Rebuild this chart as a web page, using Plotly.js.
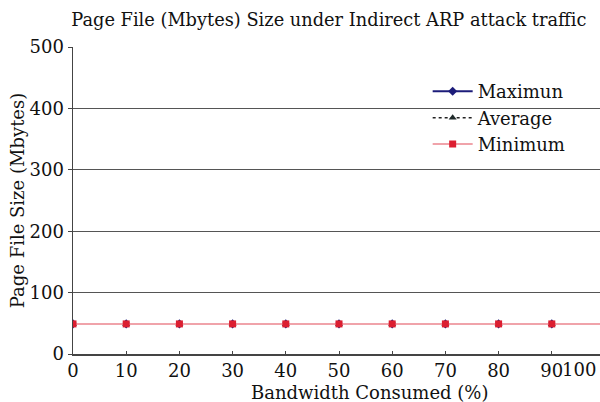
<!DOCTYPE html>
<html>
<head>
<meta charset="utf-8">
<script src="https://cdn.plot.ly/plotly-3.0.1.min.js"></script>
<style>html,body{margin:0;padding:0;overflow:hidden;background:#fff}</style>
</head>
<body>
<div id="chart" style="width:600px;height:402px"></div>
<script>
const bandwidth = [0, 10, 20, 30, 40, 50, 60, 70, 80, 90, 100];
const maximum = [49, 49, 49, 49, 49, 49, 49, 49, 49, 49, 49];
const average = [49, 49, 49, 49, 49, 49, 49, 49, 49, 49, 49];
const minimum = [49, 49, 49, 49, 49, 49, 49, 49, 49, 49, 49];
const xTicks = [0, 10, 20, 30, 40, 50, 60, 70, 80, 90];
const lastTickLabel = "100";
const yTicks = [0, 100, 200, 300, 400, 500];
const xTitle = "Bandwidth Consumed (%)";

const font = "DejaVu Serif, Liberation Serif, serif";

const traces = [
  {x: bandwidth, y: maximum, name: "Maximun", mode: "lines+markers",
   line: {color: "#1c1c7a", width: 2}, marker: {symbol: "diamond", size: 7, color: "#1c1c7a"}, cliponaxis: true},
  {x: bandwidth, y: average, name: "Average", mode: "lines+markers",
   line: {color: "#222", width: 1.5, dash: "dot"}, marker: {symbol: "triangle-up", size: 7, color: "#1f2a2a"}, cliponaxis: true},
  {x: bandwidth, y: minimum, name: "Minimum", mode: "lines+markers",
   line: {color: "#f0a3aa", width: 2}, marker: {symbol: "square", size: 7, color: "#dc1e30"}, cliponaxis: true}
];

const layout = {
  width: 600, height: 402,
  margin: {l: 73, r: 0, t: 47, b: 48},
  paper_bgcolor: "#fff", plot_bgcolor: "#fff",
  font: {family: font, size: 18, color: "#111"},
  title: {text: "Page File (Mbytes) Size under Indirect ARP attack traffic",
          x: 0.548, xanchor: "center", y: 0.95, yanchor: "middle",
          font: {family: font, size: 17.8, color: "#111"}},
  xaxis: {range: [0, 99.06], tickvals: xTicks, ticks: "inside", ticklen: 3, tickcolor: "#444",
          showline: true, linecolor: "#444", linewidth: 1.5, showgrid: false, zeroline: false,
          tickfont: {family: font, size: 18}},
  yaxis: {range: [0, 500], tickvals: yTicks, ticks: "outside", ticklen: 4, tickcolor: "#444",
          showline: true, linecolor: "#444", linewidth: 1.5, showgrid: true, gridcolor: "#555", gridwidth: 1,
          zeroline: false, tickfont: {family: font, size: 18},
          title: {text: "Page File Size (Mbytes)", standoff: 0, font: {family: font, size: 18}}},
  legend: {x: 0.673, y: 0.915, xanchor: "left", yanchor: "top", bgcolor: "rgba(0,0,0,0)",
           font: {family: font, size: 18}, itemwidth: 40, tracegroupgap: 0},
  annotations: [
    {text: lastTickLabel, xref: "paper", yref: "paper", x: 1, y: 0, xanchor: "right", yanchor: "top",
     xshift: -2, yshift: -3, showarrow: false, font: {family: font, size: 18, color: "#111"}},
    {text: xTitle, xref: "paper", yref: "paper", x: 0.562, y: 0, xanchor: "center", yanchor: "middle",
     yshift: -38, showarrow: false, font: {family: font, size: 18, color: "#111"}}
  ],
  showlegend: true
};

Plotly.newPlot("chart", traces, layout, {displayModeBar: false, staticPlot: true});
</script>
</body>
</html>
